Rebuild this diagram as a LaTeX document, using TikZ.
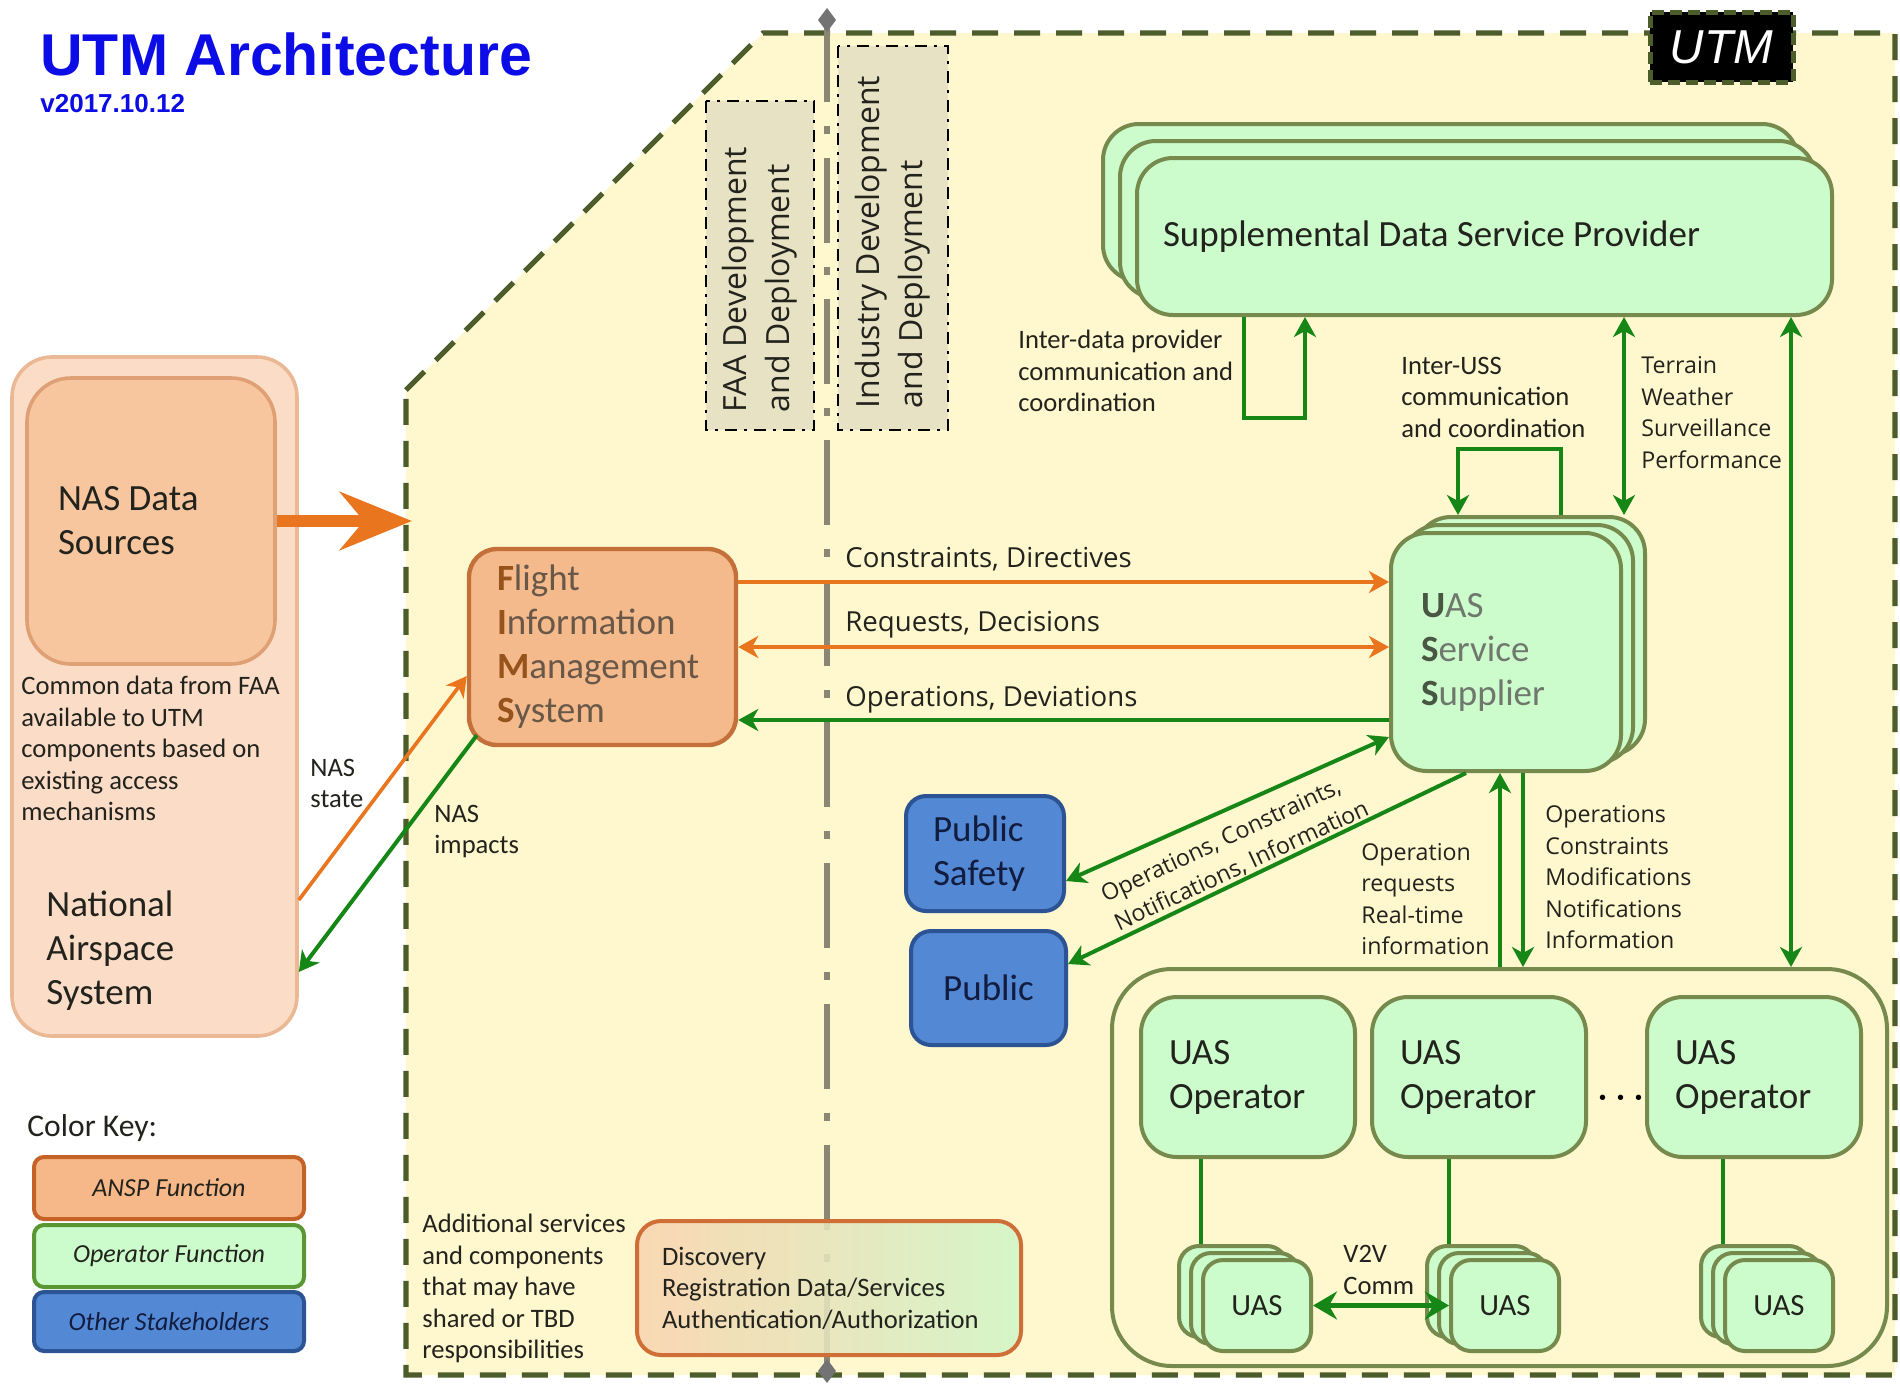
\documentclass[tikz,border=0pt]{standalone}
\usepackage{fontspec}
\setmainfont{Carlito}
\newfontfamily\opensans{Open Sans}
\newfontfamily\arialfont{Liberation Sans}
\usetikzlibrary{positioning}
\usetikzlibrary{arrows.meta}
\usetikzlibrary{shadows}

\definecolor{utmyellow}{RGB}{255,247,206}
\definecolor{utmolive}{RGB}{76,92,42}
\definecolor{titleblue}{RGB}{12,12,230}
\definecolor{txtdark}{RGB}{35,35,30}
\definecolor{axisgray}{RGB}{138,134,116}
\definecolor{devtan}{RGB}{232,226,196}
\definecolor{nasfill}{RGB}{251,221,199}
\definecolor{nasborder}{RGB}{234,184,148}
\definecolor{nasdatafill}{RGB}{248,198,158}
\definecolor{nasdataborder}{RGB}{222,160,116}
\definecolor{fimsfill}{RGB}{245,186,140}
\definecolor{fimsborder}{RGB}{196,112,58}
\definecolor{fimsinit}{RGB}{150,84,28}
\definecolor{fimstext}{RGB}{105,88,72}
\definecolor{opgreen}{RGB}{204,252,204}
\definecolor{opborder}{RGB}{118,138,78}
\definecolor{usstext}{RGB}{112,120,110}
\definecolor{ussinit}{RGB}{72,86,66}
\definecolor{arrgreen}{RGB}{22,134,22}
\definecolor{arrorange}{RGB}{233,118,30}
\definecolor{stakeblue}{RGB}{82,136,212}
\definecolor{stakeborder}{RGB}{44,84,148}
\definecolor{stakenavy}{RGB}{18,28,62}
\definecolor{keyansp}{RGB}{246,184,136}
\definecolor{keyanspborder}{RGB}{196,98,40}
\definecolor{keyopborder}{RGB}{90,150,50}
\definecolor{discleft}{RGB}{250,212,176}
\definecolor{discright}{RGB}{208,246,200}
\definecolor{discborder}{RGB}{208,110,56}

\newcommand{\fimsletter}[1]{{\bfseries\color{fimsinit}#1}}
\newcommand{\ussletter}[1]{{\bfseries\color{ussinit}#1}}

\tikzset{
  every node/.style={execute at begin node={\spaceskip=0pt\xspaceskip=0pt\relax}},
  bigfont/.style={font=\fontsize{18.5}{22}\selectfont},
  smallfont/.style={font=\fontsize{13.3}{15.75}\selectfont},
  note/.style={smallfont, text=txtdark, inner sep=0pt, align=left, anchor=west},
  osnote/.style={font=\opensans\fontsize{11.6}{15.75}\selectfont, text=txtdark, inner sep=0pt, align=left, anchor=west},
  flowlabel/.style={font=\opensans\fontsize{13.8}{16}\selectfont, text=txtdark, inner sep=0pt, anchor=west},
  utmline/.style={draw=utmolive, line width=2.6pt, dash pattern=on 13pt off 8pt},
  axisline/.style={draw=axisgray, line width=3pt, dash pattern=on 42.5pt off 12pt on 4pt off 12pt, dash phase=5pt,
    {Diamond[length=12pt,width=9pt,color=black!55]}-{Diamond[length=12pt,width=9pt,color=black!55]}},
  devbox/.style={draw=black, line width=1.4pt, dash pattern=on 6pt off 3.5pt on 1.5pt off 3.5pt, fill=devtan,
    rotate=90, align=left, inner ysep=0pt, text=txtdark, font=\opensans\fontsize{16}{21.5}\selectfont},
  nasouter/.style={draw=nasborder, fill=nasfill, line width=1.8pt, rounded corners=20pt},
  nasinner/.style={draw=nasdataborder, fill=nasdatafill, line width=1.8pt, rounded corners=22pt, align=left, bigfont, text=txtdark},
  fimsbox/.style={draw=fimsborder, fill=fimsfill, line width=2.2pt, rounded corners=14pt, align=left, bigfont, text=fimstext},
  opbox/.style={draw=opborder, fill=opgreen, line width=2pt, rounded corners=18pt, align=left, bigfont, text=txtdark},
  ussstack/.style={
    copy shadow={shadow xshift=12pt, shadow yshift=8pt, draw=opborder, fill=opgreen, line width=2pt},
    copy shadow={shadow xshift=6pt, shadow yshift=4pt, draw=opborder, fill=opgreen, line width=2pt}},
  sdspstack/.style={
    copy shadow={shadow xshift=-17pt, shadow yshift=17pt, draw=opborder, fill=opgreen, line width=2pt},
    copy shadow={shadow xshift=-8.5pt, shadow yshift=8.5pt, draw=opborder, fill=opgreen, line width=2pt}},
  uasbox/.style={opbox, minimum width=54pt, minimum height=45.5pt, rounded corners=10pt, align=center, inner sep=0pt,
    font=\fontsize{15.4}{18}\selectfont,
    copy shadow={shadow xshift=-12pt, shadow yshift=7pt, draw=opborder, fill=opgreen, line width=2pt},
    copy shadow={shadow xshift=-6pt, shadow yshift=3.5pt, draw=opborder, fill=opgreen, line width=2pt}},
  groupbox/.style={draw=opborder, line width=2pt, rounded corners=30pt},
  stakebox/.style={draw=stakeborder, fill=stakeblue, line width=2pt, rounded corners=10pt, bigfont, text=stakenavy},
  keybox/.style={minimum width=135pt, minimum height=31pt, rounded corners=5pt, line width=2pt, inner sep=0pt,
    font=\itshape\fontsize{13}{15}\selectfont},
  discbox/.style={draw=discborder, line width=2pt, rounded corners=12pt, left color=discleft, right color=discright,
    fill opacity=0.88, text opacity=1, align=left, smallfont, text=txtdark},
  oarrow/.style={draw=arrorange, line width=1.8pt},
  garrow/.style={draw=arrgreen, line width=2pt},
  bigarrow/.style={draw=arrorange, line width=6pt, -{Stealth[length=36pt,width=29pt,inset=12pt]}},
  v2varrow/.style={draw=arrgreen, line width=2.5pt,
    {Stealth[length=12pt,width=14pt,inset=4pt]}-{Stealth[length=12pt,width=14pt,inset=4pt]}},
  utmtag/.style={fill=black, draw=utmolive, line width=2.5pt, dash pattern=on 6pt off 3pt, minimum width=71.5pt,
    minimum height=35pt, inner sep=0pt, text=white, font=\arialfont\itshape\fontsize{23.8}{25}\selectfont}
}

\begin{document}
\begin{tikzpicture}[x=0.5pt, y=-0.5pt, >={Stealth[length=10pt,width=11pt,inset=3pt]}]
\fill[white] (0,0) rectangle (1900,1383);
\useasboundingbox (0,0) rectangle (1900,1383);
\draw[utmline, fill=utmyellow] (406,390) -- (763,33) -- (1895,33) -- (1895,1375) -- (406,1375) -- cycle;
\coordinate (axtop) at (827,8);
\coordinate (axbot) at (827,1383);
\draw[axisline] (axtop) -- (axbot);

\node[anchor=base west, inner sep=0pt, text=titleblue, font=\arialfont\bfseries\fontsize{29.5}{30}\selectfont] (title) at (40,75) {UTM Architecture};
\node[anchor=base west, inner sep=0pt, text=titleblue, font=\arialfont\bfseries\fontsize{13}{14}\selectfont] (version) at (40,112) {v2017.10.12};
\node[utmtag] (tag) at (1721.5,47) {UTM};

\node[devbox, minimum width=164.5pt, minimum height=54pt, text width=146.5pt, inner xsep=9pt] (faa) at (760,265.5) {FAA Development\\and Deployment};
\node[devbox, minimum width=192pt, minimum height=55pt, text width=170pt, inner xsep=11pt] (industry) at (893,238) {Industry Development\\and Deployment};

\node[nasouter, minimum width=142.5pt, minimum height=339.5pt] (nasout) at (154.5,696.5) {};
\node[nasinner, minimum height=143pt, text width=93pt, inner xsep=15.5pt] (nasdata) at (151,521) {NAS Data\\Sources};
\node[note] (nascommon) at (21,748.5) {Common data from FAA\\available to UTM\\components based on\\existing access\\mechanisms};
\node[note, bigfont] (nasys) at (46,950.5) {National\\Airspace\\System};
\coordinate (utmedge) at (412,521);
\draw[bigarrow] (nasdata.east) -- (utmedge);

\node[fimsbox, minimum height=98pt, text width=105.5pt, inner xsep=14pt] (fims) at (602.5,647) {\fimsletter{F}light\\\fimsletter{I}nformation\\\fimsletter{M}anagement\\\fimsletter{S}ystem};

\node[opbox, sdspstack, minimum height=78.5pt, text width=321.5pt, inner xsep=13pt] (sdsp) at (1484.5,236.5) {Supplemental Data Service Provider};
\node[opbox, ussstack, minimum height=119pt, text width=85pt, inner xsep=15pt, text=usstext] (uss) at (1506,652) {\ussletter{U}AS\\\ussletter{S}ervice\\\ussletter{S}upplier};

\node[stakebox, minimum height=57.5pt, text width=52pt, inner xsep=13.5pt, align=left] (psafety) at (985,853.5) {Public\\Safety};
\node[stakebox, minimum width=77.5pt, minimum height=57pt] (public) at (988.5,988) {Public};

\node[groupbox, minimum width=387.5pt, minimum height=198.5pt] (opgroup) at (1499.5,1167.5) {};
\node[opbox, minimum height=80pt, text width=79pt, inner xsep=14pt] (op1) at (1248,1077) {UAS\\Operator};
\node[opbox, minimum height=80pt, text width=79pt, inner xsep=14pt, right=6.5pt of op1] (op2) {UAS\\Operator};
\node[opbox, minimum height=80pt, text width=79pt, inner xsep=14pt, right=28.5pt of op2] (op3) {UAS\\Operator};
\node[inner sep=0pt, font=\boldmath\fontsize{16}{18}\selectfont] (opdots) at (1621,1098) {$\cdots$};
\node[uasbox] (uas1) at (1257,1305.5) {UAS};
\node[uasbox] (uas2) at (1505,1305.5) {UAS};
\node[uasbox] (uas3) at (1779,1305.5) {UAS};
\draw[garrow] (uas1.north west |- op1.south) -- ([yshift=7pt]uas1.north west);
\draw[garrow] (uas2.north west |- op2.south) -- ([yshift=7pt]uas2.north west);
\draw[garrow] (uas3.north west |- op3.south) -- ([yshift=7pt]uas3.north west);
\draw[v2varrow] (uas1.east) -- (uas2.west);
\node[note] (v2v) at (1343,1270) {V2V\\Comm};

\node[anchor=west, inner sep=0pt, text=txtdark, font=\fontsize{15.8}{18}\selectfont] (keytitle) at (27,1128) {Color Key:};
\node[keybox, draw=keyanspborder, fill=keyansp, text=txtdark] (keyansp) at (169,1188) {ANSP Function};
\node[keybox, draw=keyopborder, fill=opgreen, text=txtdark, below=1pt of keyansp] (keyop) {Operator Function};
\node[keybox, draw=stakeborder, fill=stakeblue, text=stakenavy, minimum height=29.5pt, below=0.5pt of keyop] (keyother) {Other Stakeholders};

\node[note] (addtext) at (422,1288.5) {Additional services\\and components\\that may have\\shared or TBD\\responsibilities};
\node[discbox, minimum height=67pt, text width=167pt, inner xsep=12.5pt] (disc) at (829,1288) {Discovery\\Registration Data/Services\\Authentication/Authorization};

\draw[oarrow, ->] ([yshift=32.5pt]fims.east) -- ([yshift=32.5pt]fims.east -| uss.west);
\draw[oarrow, <->] (fims.east) -- (fims.east -| uss.west);
\draw[garrow, <-] ([yshift=-36.5pt]fims.east) -- ([yshift=-36.5pt]fims.east -| uss.west);
\node[flowlabel] (cdlabel) at (845,559) {Constraints, Directives};
\node[flowlabel] (rdlabel) at (845,625) {Requests, Decisions};
\node[flowlabel] (odlabel) at (845,700) {Operations, Deviations};

\draw[oarrow, ->] ([yshift=-101.75pt]nasout.east) -- ([yshift=-14.5pt]fims.west);
\draw[garrow, ->] ([xshift=5pt,yshift=6pt]fims.south west) -- ([yshift=-137.75pt]nasout.east);
\node[note] (nasstate) at (310,783.5) {NAS\\state};
\node[note] (nasimpact) at (434,831.5) {NAS\\impacts};

\draw[garrow, ->] ([xshift=-120.25pt]sdsp.south) -- ++(0,101) -| ([xshift=-89.75pt]sdsp.south);
\node[note] (interdata) at (1018,371) {Inter-data provider\\communication and\\coordination};
\draw[garrow, ->] ([xshift=27.5pt,yshift=8pt]uss.north) -- ++(0,-66) -| ([xshift=-24pt,yshift=8pt]uss.north);
\node[note] (interuss) at (1401,397) {Inter-USS\\communication\\and coordination};
\draw[garrow, <->] ([xshift=69.75pt]sdsp.south) -- ([xshift=59pt,yshift=8pt]uss.north);
\node[osnote] (terrain) at (1641,412.5) {Terrain\\Weather\\Surveillance\\Performance};
\draw[garrow, <->] ([xshift=153.25pt]sdsp.south) -- ([xshift=145.75pt]opgroup.north);

\draw[garrow, ->] ([xshift=0.25pt]opgroup.north) -- ([xshift=0.25pt]opgroup.north |- uss.south);
\draw[garrow, ->] ([xshift=8.5pt]uss.south) -- ([xshift=8.5pt]uss.south |- opgroup.north);
\node[osnote] (oprequests) at (1361,899) {Operation\\requests\\Real-time\\information};
\node[osnote] (oplist) at (1545,877.5) {Operations\\Constraints\\Modifications\\Notifications\\Information};

\draw[garrow, <->] ([yshift=-13.75pt]psafety.east) -- ([yshift=-42.5pt]uss.west);
\draw[garrow, ->] ([xshift=-20pt]uss.south) -- ([yshift=12pt]public.east);
\node[osnote, anchor=center, rotate=25] (publabel) at (1235,852) {Operations, Constraints,\\Notifications, Information};
\end{tikzpicture}
\end{document}
